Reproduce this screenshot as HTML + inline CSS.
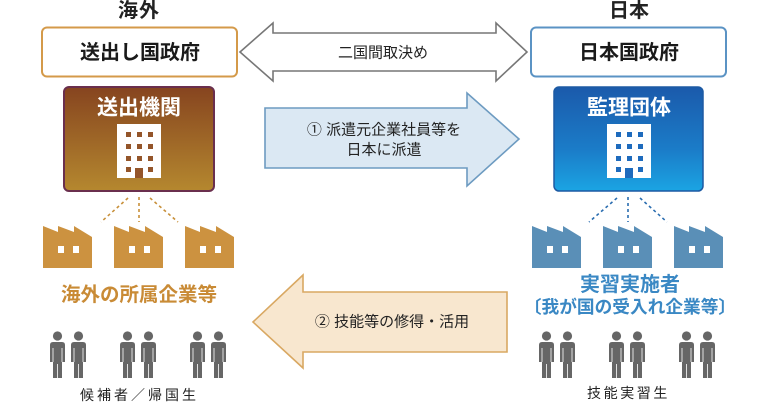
<!DOCTYPE html>
<html><head><meta charset="utf-8">
<style>
html,body{margin:0;padding:0;background:#fff;}
svg{display:block;}
text{font-family:"Liberation Sans","Noto Sans CJK JP",sans-serif;}
</style></head>
<body>
<svg width="768" height="402" viewBox="0 0 768 402" xmlns="http://www.w3.org/2000/svg">
<defs>
<linearGradient id="gb" x1="0" y1="0" x2="0" y2="1">
<stop offset="0" stop-color="#86441f"/>
<stop offset="1" stop-color="#b5882f"/>
</linearGradient>
<linearGradient id="gl" x1="0" y1="0" x2="0" y2="1">
<stop offset="0" stop-color="#1b5aab"/>
<stop offset="0.6" stop-color="#1b7cc8"/>
<stop offset="1" stop-color="#1ba4e3"/>
</linearGradient>
<g id="fac">
<path d="M0,42 L0,0 L15,6 L15,0 L31,6 L31,0 L49,11 L49,42 Z"/>
<rect x="15" y="20" width="6" height="7" fill="#fff"/>
<rect x="30" y="20" width="6" height="7" fill="#fff"/>
</g>
<g id="per">
<circle cx="7.5" cy="5" r="4.6"/>
<path d="M0,14 Q0,11 3,11 L12,11 Q15,11 15,14 L15,31 L12,31 L12,47 L7.9,47 L7.9,33 L7.1,33 L7.1,47 L3,47 L3,31 L0,31 Z"/>
<line x1="3" y1="17" x2="3" y2="31" stroke="#fff" stroke-width="0.8"/>
<line x1="12" y1="17" x2="12" y2="31" stroke="#fff" stroke-width="0.8"/>
</g>
<g id="pair">
<use href="#per" x="0" y="0"/>
<use href="#per" x="21" y="0"/>
</g>
<g id="bld">
<rect x="0" y="0" width="44" height="54" fill="#fff"/>
<rect x="9" y="8" width="5" height="5"/><rect x="20" y="8" width="5" height="5"/><rect x="31" y="8" width="5" height="5"/>
<rect x="9" y="20" width="5" height="5"/><rect x="20" y="20" width="5" height="5"/><rect x="31" y="20" width="5" height="5"/>
<rect x="9" y="32" width="5" height="5"/><rect x="20" y="32" width="5" height="5"/><rect x="31" y="32" width="5" height="5"/>
<rect x="9" y="43" width="5" height="5"/><rect x="31" y="43" width="5" height="5"/>
<rect x="18" y="44" width="8" height="10"/>
</g>
</defs>

<!-- titles -->
<text x="139" y="11" font-size="20" font-weight="bold" fill="#222" text-anchor="middle" dominant-baseline="central" letter-spacing="1">海外</text>
<text x="629" y="11" font-size="20" font-weight="bold" fill="#222" text-anchor="middle" dominant-baseline="central">日本</text>

<!-- gov boxes -->
<rect x="42" y="27.5" width="195" height="49" rx="5" fill="#fff" stroke="#d49a4a" stroke-width="2"/>
<text x="140" y="53" font-size="20" font-weight="bold" fill="#1a1a1a" text-anchor="middle" dominant-baseline="central">送出し国政府</text>
<rect x="531" y="27.5" width="195" height="49" rx="5" fill="#fff" stroke="#5b93c4" stroke-width="2"/>
<text x="629" y="53" font-size="20" font-weight="bold" fill="#1a1a1a" text-anchor="middle" dominant-baseline="central">日本国政府</text>

<!-- double arrow -->
<path d="M240,52 L273,23 L273,33 L496,33 L496,23 L527,52 L496,81 L496,71 L273,71 L273,81 Z" fill="#fff" stroke="#777" stroke-width="1.6" stroke-linejoin="miter"/>
<text x="383" y="53" font-size="15" fill="#222" text-anchor="middle" dominant-baseline="central">二国間取決め</text>

<!-- org boxes -->
<rect x="64" y="87" width="150" height="104" rx="5" fill="url(#gb)" stroke="#6a2f4e" stroke-width="2"/>
<text x="139" y="108" font-size="21" font-weight="bold" fill="#fff" text-anchor="middle" dominant-baseline="central">送出機関</text>
<use href="#bld" x="117" y="124" fill="#94552a"/>

<rect x="554" y="87" width="149" height="104" rx="5" fill="url(#gl)" stroke="#1d5aa3" stroke-width="1.5"/>
<text x="629" y="108" font-size="21" font-weight="bold" fill="#fff" text-anchor="middle" dominant-baseline="central">監理団体</text>
<use href="#bld" x="607" y="124" fill="#1e6bbd"/>

<!-- blue arrow -->
<path d="M265,108 L467,108 L467,93 L519,139 L467,186 L467,168 L265,168 Z" fill="#dbe8f3" stroke="#6d9bc1" stroke-width="1.6"/>
<text x="384" y="130" font-size="15" fill="#222" text-anchor="middle" dominant-baseline="central">① 派遣元企業社員等を</text>
<text x="384" y="150" font-size="15" fill="#222" text-anchor="middle" dominant-baseline="central">日本に派遣</text>

<!-- dashed connectors -->
<g stroke="#c8903a" stroke-width="1.6" stroke-dasharray="3,3" fill="none">
<line x1="139" y1="197" x2="139" y2="222"/>
<line x1="128" y1="198" x2="101" y2="222"/>
<line x1="150" y1="198" x2="178" y2="222"/>
</g>
<g stroke="#2a6db0" stroke-width="1.6" stroke-dasharray="3,3" fill="none">
<line x1="628" y1="197" x2="628" y2="222"/>
<line x1="617" y1="198" x2="589" y2="222"/>
<line x1="640" y1="198" x2="667" y2="222"/>
</g>

<!-- factories -->
<g fill="#cc9240">
<use href="#fac" x="43" y="226"/>
<use href="#fac" x="114" y="226"/>
<use href="#fac" x="185" y="226"/>
</g>
<g fill="#5a8fb7">
<use href="#fac" x="532" y="226"/>
<use href="#fac" x="603" y="226"/>
<use href="#fac" x="674" y="226"/>
</g>

<text x="139" y="295" font-size="19.5" font-weight="bold" fill="#c98b36" text-anchor="middle" dominant-baseline="central">海外の所属企業等</text>
<text x="630" y="285" font-size="20" font-weight="bold" fill="#3a88c4" text-anchor="middle" dominant-baseline="central">実習実施者</text>
<text x="630" y="307" font-size="17.7" font-weight="bold" fill="#3a88c4" text-anchor="middle" dominant-baseline="central">〔我が国の受入れ企業等〕</text>

<!-- orange arrow -->
<path d="M253,322 L303,275 L303,292 L507,292 L507,352 L303,352 L303,368 Z" fill="#f8e7cf" stroke="#d9a862" stroke-width="1.6"/>
<text x="392" y="322" font-size="15" fill="#222" text-anchor="middle" dominant-baseline="central">② 技能等の修得・活用</text>

<!-- people -->
<g fill="#666">
<use href="#pair" x="50" y="331"/>
<use href="#pair" x="120" y="331"/>
<use href="#pair" x="190" y="331"/>
<use href="#pair" x="539" y="331"/>
<use href="#pair" x="609" y="331"/>
<use href="#pair" x="679" y="331"/>
</g>

<text x="80" y="395" font-size="14" fill="#222" dominant-baseline="central" letter-spacing="3">候補者／帰国生</text>
<text x="587" y="393" font-size="14" fill="#222" dominant-baseline="central" letter-spacing="2.6">技能実習生</text>
</svg>
</body></html>
